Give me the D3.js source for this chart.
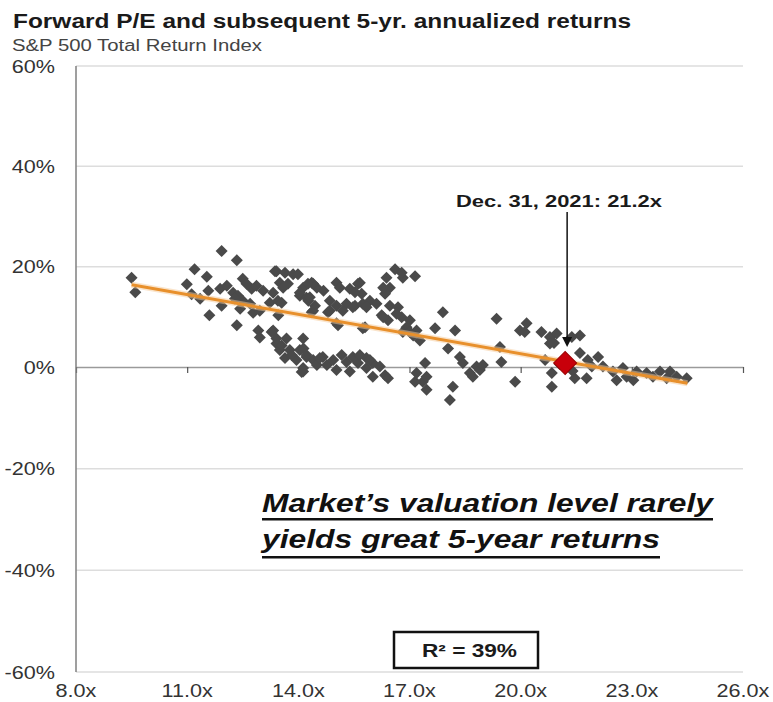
<!DOCTYPE html>
<html>
<head>
<meta charset="utf-8">
<script src="https://cdn.jsdelivr.net/npm/d3@7"></script>
<style>
  body { margin: 0; background: #fff; }
  svg { display: block; font-family: "Liberation Sans", Arial, sans-serif; }
</style>
</head>
<body>
<div id="chart"></div>
<script>
// tick values
const xTicks = [8, 11, 14, 17, 20, 23, 26];
const yTicks = [-60, -40, -20, 0, 20, 40, 60];

// forward P/E vs subsequent 5-yr annualized return (%)
const scatterPoints = [
  [9.5, 17.8], [9.6, 14.9], [11.93, 23.1], [12.34, 21.3], [11.2, 19.5], [11.53, 18.0], [10.99, 16.5],
  [11.12, 14.5], [11.35, 13.6], [11.6, 10.3], [11.57, 15.2], [11.89, 15.6], [12.07, 16.2], [11.93, 12.2],
  [12.24, 14.8], [12.37, 14.2], [12.5, 17.6], [12.6, 16.6], [12.74, 15.6], [12.87, 16.2], [13.05, 15.2],
  [12.29, 13.6], [12.5, 13.2], [12.7, 12.6], [12.78, 10.8], [12.43, 11.6], [12.34, 8.3], [12.96, 11.2],
  [12.92, 7.3], [12.96, 5.9], [13.28, 7.0], [13.41, 4.7], [13.37, 19.1], [13.32, 14.8], [13.23, 12.8],
  [13.41, 19.1], [13.64, 18.8], [13.86, 18.5], [13.99, 18.5], [13.5, 16.8], [13.72, 16.6], [13.59, 15.8],
  [13.45, 13.2], [14.13, 15.8], [14.36, 16.8], [14.5, 15.8], [14.04, 14.2], [14.27, 13.2], [14.45, 12.2],
  [14.36, 10.9], [14.68, 15.2], [15.03, 16.8], [15.12, 15.8], [14.85, 13.2], [15.03, 12.2], [14.8, 10.9],
  [15.07, 8.3], [15.39, 15.6], [15.66, 16.8], [15.71, 14.6], [15.3, 12.6], [15.53, 12.2], [15.74, 12.6],
  [15.93, 13.2], [16.11, 12.6], [15.8, 7.9], [16.38, 17.8], [16.61, 19.5], [16.82, 17.8], [17.15, 18.1],
  [16.47, 15.8], [16.34, 14.6], [16.47, 12.2], [16.25, 10.3], [16.42, 9.3], [16.69, 11.9], [16.79, 9.9],
  [16.92, 7.9], [16.82, 7.0], [17.1, 6.3], [17.28, 5.3], [17.19, 7.3],
  [14.22, 13.8], [14.4, 16.6], [13.55, 12.8], [13.46, 10.3], [14.04, 14.8],
  [16.79, 18.8], [16.29, 15.8], [15.53, 14.9], [14.26, 16.6], [14.31, 13.9], [14.4, 11.2], [14.85, 11.2],
  [15.2, 11.2], [15.47, 11.9], [15.84, 11.9], [16.29, 9.9], [16.65, 10.6], [17.01, 9.3], [17.01, 7.0],
  [15.03, 8.7], [15.74, 7.7], [15.61, 16.6],
  [13.32, 7.3], [13.68, 5.7], [14.13, 5.7], [13.5, 3.4], [13.77, 3.4], [14.04, 3.4], [13.64, 1.8],
  [13.95, 1.4], [14.22, 2.0], [14.4, 1.4], [14.66, 2.0], [14.13, -0.2], [14.5, 0.4], [14.77, 0.4],
  [14.94, 1.4], [15.17, 2.4], [15.3, 1.0], [15.03, -0.6], [15.47, 2.0], [15.61, 0.8], [15.84, 1.8],
  [16.01, 0.8], [16.2, 0.1], [15.84, -0.2], [15.39, -0.9], [16.34, -1.6], [16.42, -2.2],
  [13.55, 4.3], [13.82, 2.4], [14.14, 3.7], [14.22, 2.4], [14.09, -1.0], [13.41, 5.7],
  [14.58, 1.8], [15.66, 2.4], [15.93, 1.4], [16.01, -1.9], [14.13, -0.9],
  [17.42, 0.8], [17.19, -1.2], [17.36, -2.9], [17.46, -4.5], [17.9, 10.9], [17.69, 7.7], [18.23, 7.3],
  [18.04, 3.7], [18.36, 2.0], [18.44, 0.8], [17.46, -1.9], [17.15, -2.9], [18.17, -3.9], [18.09, -6.5],
  [18.63, -1.2], [18.81, 0.1], [18.9, -0.6], [18.71, -1.9], [19.35, 9.6], [19.44, 4.0], [19.48, 1.0],
  [19.85, -2.9], [19.98, 7.3],
  [20.16, 8.7], [20.11, 7.0], [20.56, 7.0], [20.79, 6.0], [20.97, 6.7], [21.6, 6.3], [21.38, 6.0],
  [20.79, 4.7], [18.98, 0.4], [20.66, 1.4], [21.6, 2.8], [21.81, 1.4], [22.09, 2.0], [21.92, 0.1],
  [20.84, -1.2], [20.84, -3.9], [21.46, -2.2], [21.78, -2.2], [22.22, 0.1], [22.49, -0.9], [22.76, -0.2],
  [22.59, -2.6], [22.86, -1.9], [23.13, -0.9], [23.4, -1.2], [23.57, -1.9], [23.76, -0.9], [24.03, -0.9],
  [24.21, -1.9], [24.48, -2.2], [23.04, -2.6], [23.94, -2.2], [21.05, 0.6], [21.4, -0.8], [20.9, 4.8]
];

// regression line end points
const trendPE = [9.5, 24.5];
const trendReturn = [16.4, -3.2];

// Dec. 31, 2021 point
const latestPE = 21.2;
const latestReturn = 0.8;

const width = 773, height = 702;

const svg = d3.select("#chart")
  .append("svg")
    .attr("width", width)
    .attr("height", height);

const x = d3.scaleLinear().domain([8, 26]).range([76, 743]);
const y = d3.scaleLinear().domain([-60, 0, 60]).range([672, 367, 66]);

// gridlines
svg.append("g")
  .selectAll("line")
  .data(yTicks.filter(d => d !== 0))
  .join("line")
    .attr("x1", x(8)).attr("x2", x(26))
    .attr("y1", d => y(d)).attr("y2", d => y(d))
    .attr("stroke", "#dddddd")
    .attr("stroke-width", 1.5);

// zero line with tick marks
svg.append("g")
  .attr("transform", `translate(0,${y(0)})`)
  .call(d3.axisBottom(x).tickValues(xTicks).tickSize(6).tickSizeOuter(0).tickFormat(""))
  .call(g => g.select(".domain").attr("stroke", "#9a9a9a").attr("stroke-width", 1.5))
  .call(g => g.selectAll(".tick line").attr("stroke", "#555").attr("stroke-width", 1.2));

// y axis line
svg.append("line")
  .attr("x1", x(8)).attr("x2", x(8))
  .attr("y1", y(60)).attr("y2", y(-60))
  .attr("stroke", "#7f7f7f")
  .attr("stroke-width", 1.5);

// y labels
svg.append("g")
  .selectAll("text")
  .data(yTicks)
  .join("text")
    .attr("transform", d => `translate(55,${y(d) + 6.5}) scale(1.2,1)`)
    .attr("text-anchor", "end")
    .attr("font-size", 18)
    .attr("fill", "#333")
    .text(d => d + "%");

// x labels
svg.append("g")
  .selectAll("text")
  .data(xTicks)
  .join("text")
    .attr("transform", d => `translate(${x(d)},697) scale(1.2,1)`)
    .attr("text-anchor", "middle")
    .attr("font-size", 18)
    .attr("fill", "#333")
    .text(d => d.toFixed(1) + "x");

// title + subtitle
svg.append("text")
  .attr("x", 13).attr("y", 28)
  .attr("font-size", 19.5)
  .attr("font-weight", "bold")
  .attr("fill", "#1a1a1a")
  .attr("textLength", 618)
  .attr("lengthAdjust", "spacingAndGlyphs")
  .text("Forward P/E and subsequent 5-yr. annualized returns");

svg.append("text")
  .attr("x", 12).attr("y", 51)
  .attr("font-size", 16)
  .attr("fill", "#444")
  .attr("textLength", 250)
  .attr("lengthAdjust", "spacingAndGlyphs")
  .text("S&P 500 Total Return Index");

// scatter
const diamond = d3.symbol().type(d3.symbolSquare);

svg.append("g")
  .selectAll("path")
  .data(scatterPoints)
  .join("path")
    .attr("d", diamond.size(72)())
    .attr("transform", d => `translate(${x(d[0])},${y(d[1])}) rotate(45)`)
    .attr("fill", "#4a4a4a");

// trend line
const trend = trendPE.map((d, i) => [d, trendReturn[i]]);
const line = d3.line().x(d => x(d[0])).y(d => y(d[1]));

svg.append("path")
  .datum(trend)
  .attr("d", line)
  .attr("stroke", "#f6c998")
  .attr("stroke-width", 6)
  .attr("stroke-opacity", 0.5)
  .attr("fill", "none");

svg.append("path")
  .datum(trend)
  .attr("d", line)
  .attr("stroke", "#e8902c")
  .attr("stroke-width", 3)
  .attr("fill", "none");

// latest point
svg.append("path")
  .attr("d", d3.symbol().type(d3.symbolSquare).size(265)())
  .attr("transform", `translate(${x(latestPE)},${y(latestReturn)}) rotate(45)`)
  .attr("fill", "#c8000a")
  .attr("stroke", "#9a0000")
  .attr("stroke-width", 1);

// annotation arrow
const ax = x(latestPE) + 2;
svg.append("line")
  .attr("x1", ax).attr("x2", ax)
  .attr("y1", 212).attr("y2", y(latestReturn) - 24)
  .attr("stroke", "#111")
  .attr("stroke-width", 1.5);

svg.append("path")
  .attr("d", `M${ax - 5},${y(latestReturn) - 26} L${ax + 5},${y(latestReturn) - 26} L${ax},${y(latestReturn) - 16} Z`)
  .attr("fill", "#111");

svg.append("text")
  .attr("x", 456).attr("y", 207)
  .attr("font-size", 17)
  .attr("font-weight", "bold")
  .attr("fill", "#1a1a1a")
  .attr("textLength", 206)
  .attr("lengthAdjust", "spacingAndGlyphs")
  .text("Dec. 31, 2021:  21.2x");

// callout
const callout = [
  { text: "Market\u2019s valuation level rarely", y: 512, w: 451 },
  { text: "yields great 5-year returns", y: 548, w: 398 }
];

callout.forEach((c, i) => {
  svg.append("text")
    .attr("x", 262).attr("y", c.y)
    .attr("font-size", 25)
    .attr("font-weight", "bold")
    .attr("font-style", "italic")
    .attr("fill", "#111")
    .attr("textLength", c.w)
    .attr("lengthAdjust", "spacingAndGlyphs")
    .text(c.text);
  svg.append("rect")
    .attr("x", 262).attr("y", c.y + (i === 0 ? 6 : 8))
    .attr("width", c.w).attr("height", 2.5)
    .attr("fill", "#111");
});

// R squared box
svg.append("rect")
  .attr("x", 394).attr("y", 632)
  .attr("width", 144).attr("height", 36)
  .attr("fill", "#fff")
  .attr("stroke", "#111")
  .attr("stroke-width", 2.5);

svg.append("text")
  .attr("x", 422).attr("y", 657)
  .attr("font-size", 18)
  .attr("font-weight", "bold")
  .attr("fill", "#1a1a1a")
  .attr("textLength", 95)
  .attr("lengthAdjust", "spacingAndGlyphs")
  .text("R\u00b2  = 39%");
</script>
</body>
</html>
